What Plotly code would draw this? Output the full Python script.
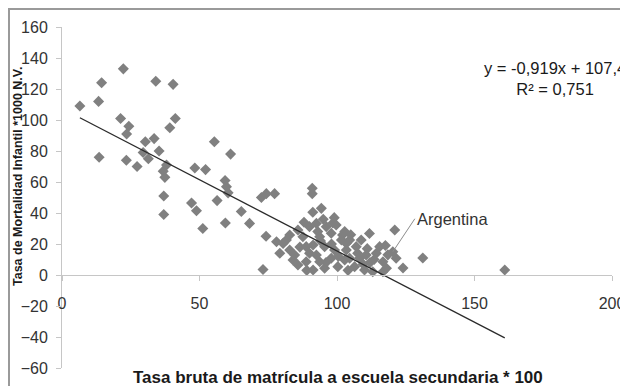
import plotly.graph_objects as go

# --- data ---
enrolment = [6.5, 14.4, 13.3, 13.5, 22.3, 34.1, 40.4, 41.2, 39.2, 21.3, 24.3, 23.5, 30.3, 33.5,
             35.3, 29.5, 31.4, 23.4, 27.3, 38.0, 36.8, 37.4, 55.4, 61.3, 48.3, 52.2, 59.3, 59.8,
             60.4, 37.0, 37.0, 47.1, 48.9, 51.2, 56.4, 59.4, 65.2, 68.2, 74.2, 73.1, 72.5, 74.3,
             77.3, 91.0, 91.0, 91.2, 94.3, 111.8, 121.0, 124.0, 131.2, 161.0, 115.5, 117.6,
             120.3, 121.5, 118.0, 104.6, 98.5, 102.0,
             78.0, 80.4, 82.8, 85.8, 90.0, 92.5, 96.1, 99.7, 102.8, 87.6, 93.7, 97.9, 101.6,
             79.2, 82.8, 84.6, 88.8, 91.3, 95.5, 99.1, 103.4, 85.8, 88.8, 91.3, 93.7, 95.5,
             97.9, 100.3, 102.8, 92.5, 84.0, 81.6,
             103.4, 107.0, 116.7, 114.3, 110.6, 108.2, 104.6, 106.4, 110.0, 113.0, 116.7, 108.8,
             86.5, 90.0, 94.0, 98.0, 100.5, 96.0, 89.0, 104.0, 107.5, 112.0, 105.0, 95.0,
             88.0, 99.0, 93.0, 111.0, 113.5, 118.5, 109.5]
mortality = [109, 124, 112, 76, 133, 125, 123, 101, 95, 101, 96, 91, 86, 88,
             80, 79, 75, 74, 70, 71, 67, 63, 86, 78, 69, 68, 61, 57,
             53, 51, 39, 46.5, 41.5, 30, 48, 33.5, 41, 33.3, 25, 3.5, 50, 52.5,
             52.5, 56, 52.5, 40.5, 43, 26.8, 29, 4.5, 11, 3.2, 18.3, 19,
             15, 10.8, 4.3, 22.6, 33.5, 25.8,
             21.5, 20.4, 25.8, 29, 31.2, 33.3, 31.2, 32.3, 28, 24.7, 24.7, 26.9, 22.6,
             14, 16.1, 12.9, 18.3, 19.4, 18.3, 16.1, 16.1, 6.5, 8.6, 3.2, 8.6, 4.3,
             10.8, 5.4, 9.7, 12.9, 9.7, 22.6,
             20.4, 18.3, 8.6, 14, 12.9, 10.8, 10.8, 5.4, 3.2, 2.1, 2.1, 22.6,
             18, 14, 22, 20, 12, 8, 3, 3, 14, 8, 26, 36,
             34, 37, 28, 17, 10, 13, 7]

trend_slope = -0.919
trend_intercept = 107.4
argentina = (120.3, 15)

x_ticks = [0, 50, 100, 150, 200]
y_ticks = [-60, -40, -20, 0, 20, 40, 60, 80, 100, 120, 140, 160]

x_min, x_max = min(enrolment), max(enrolment)
trend_x = [x_min, x_max]
trend_y = [trend_slope * v + trend_intercept for v in trend_x]

FONT = "Liberation Sans, Arial, sans-serif"

fig = go.Figure()
fig.add_trace(go.Scatter(
    x=enrolment, y=mortality, mode="markers",
    marker=dict(symbol="diamond", size=8.5, color="#808080", line=dict(width=0)),
    hoverinfo="x+y", showlegend=False))
fig.add_trace(go.Scatter(
    x=trend_x, y=trend_y, mode="lines",
    line=dict(color="#2b2b2b", width=1.3), showlegend=False, hoverinfo="skip"))

y_lo, y_hi = -60, 160
W, H = 620, 378
L, T = 54, 19
PW, PH = 550, 341
fig.update_layout(
    width=W, height=H,
    margin=dict(l=L, r=W - L - PW, t=T, b=H - T - PH, autoexpand=False),
    paper_bgcolor="white", plot_bgcolor="white",
    font=dict(family=FONT, size=16, color="#333333"),
    xaxis=dict(range=[0, 200], tickvals=x_ticks, showgrid=False, zeroline=False,
               showline=True, linecolor="#c6c6c6", linewidth=1,
               ticks="outside", ticklen=5, tickcolor="#c6c6c6",
               anchor="free", position=(0 - y_lo) / (y_hi - y_lo),
               ticklabelstandoff=9, automargin=False,
               tickfont=dict(family=FONT, size=16, color="#333333")),
    yaxis=dict(range=[y_lo, y_hi], tickvals=y_ticks, showgrid=False, zeroline=False,
               showline=True, linecolor="#c6c6c6", linewidth=1,
               ticks="outside", ticklen=5, tickcolor="#c6c6c6",
               ticklabelstandoff=5, automargin=False,
               tickfont=dict(family=FONT, size=16, color="#333333")),
    shapes=[dict(type="rect", xref="paper", yref="paper",
                 x0=(1 - L) / PW, x1=1.2, y0=-0.3, y1=(T + PH - 1) / PH,
                 line=dict(color="#9a9a9a", width=2), layer="below")],
    annotations=[
        dict(text="<b>Tasa bruta de matrícula a escuela secundaria * 100</b>",
             xref="paper", yref="paper", x=0.502, y=-0.029, xanchor="center", yanchor="middle",
             showarrow=False, font=dict(family=FONT, size=17, color="#1a1a1a")),
        dict(text="<b>Tasa de Mortalidad Infantil *1000 N.V.</b>",
             xref="paper", yref="paper", x=-0.08, y=0.563, textangle=-90,
             xanchor="center", yanchor="middle",
             showarrow=False, font=dict(family=FONT, size=12.5, color="#1a1a1a")),
        dict(text="y = -0,919x + 107,4<br>R² = 0,751",
             xref="paper", yref="paper", x=0.896, y=0.849, xanchor="center", yanchor="middle",
             align="center", showarrow=False,
             font=dict(family=FONT, size=16.5, color="#1a1a1a")),
        dict(text="Argentina", x=argentina[0], y=argentina[1], xref="x", yref="y",
             ax=22, ay=-33, axref="pixel", ayref="pixel",
             showarrow=True, arrowhead=0, arrowwidth=1, arrowcolor="#8c8c8c",
             xanchor="left", yanchor="middle",
             font=dict(family=FONT, size=16.5, color="#333333")),
    ],
)

fig.write_html("out.html")
